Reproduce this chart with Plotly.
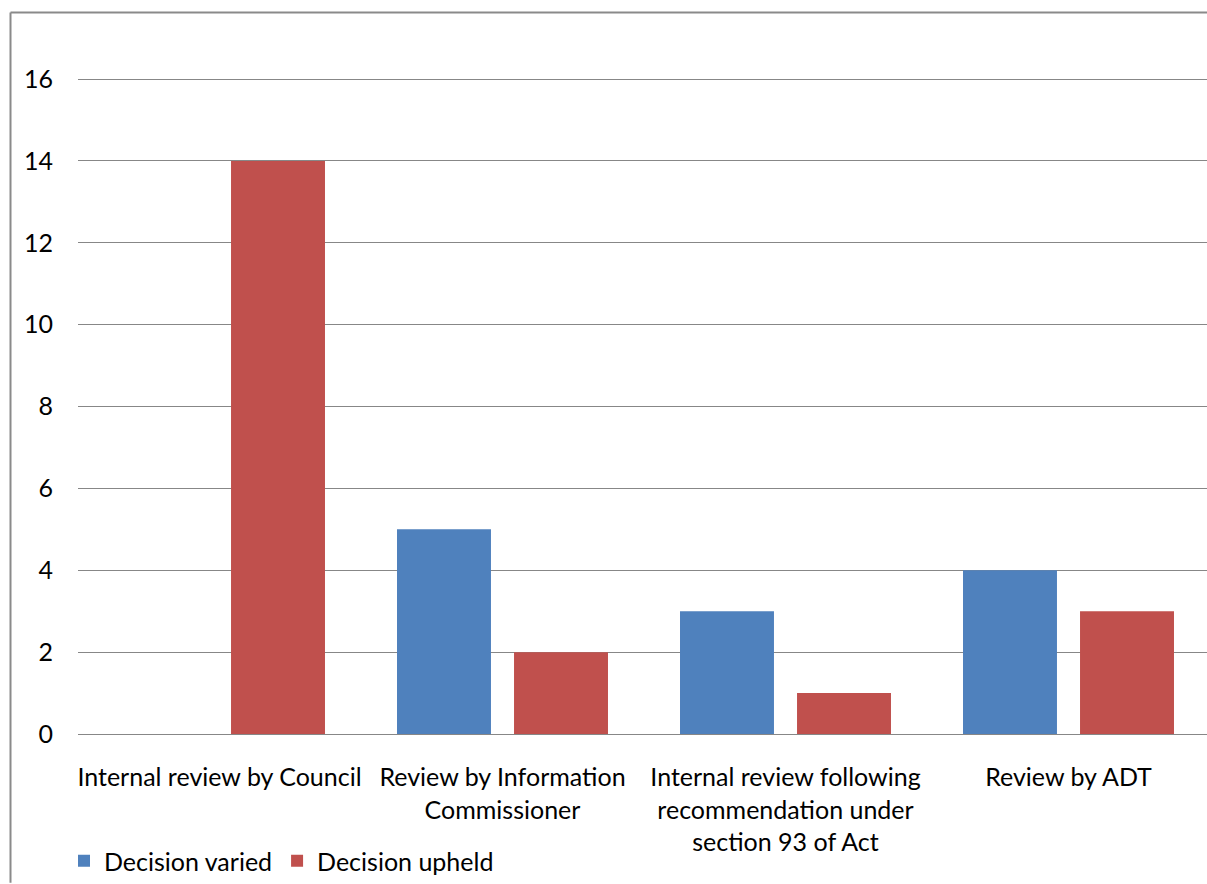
import plotly.graph_objects as go

# Review outcomes by review type
categories = [
    "Internal review by Council",
    "Review by Information<br>Commissioner",
    "Internal review following<br>recommendation under<br>section 93 of Act",
    "Review by ADT",
]
decision_varied = [0, 5, 3, 4]
decision_upheld = [14, 2, 1, 3]
y_ticks = [0, 2, 4, 6, 8, 10, 12, 14, 16]

W, H = 1207, 884
Y_MAX = 16.1
L, B = 78, 149
T = round(H - B - 41 * Y_MAX)
plot_w = W - L
plot_h = H - T - B

font = dict(family="Lato, 'Open Sans', sans-serif", size=25, color="#000000")

fig = go.Figure()
fig.add_trace(go.Bar(name="Decision varied", x=categories, y=decision_varied,
                     marker=dict(color="#4F81BD", line=dict(width=0))))
fig.add_trace(go.Bar(name="Decision upheld", x=categories, y=decision_upheld,
                     marker=dict(color="#C0504D", line=dict(width=0))))

def px_x(p):
    return (p - L) / plot_w

def px_y(p):
    return (H - B - p) / plot_h

# Outer chart frame (left and top edges; the rest lies outside the page)
frame = dict(color="#8a8a8a", width=2)
fig.add_shape(type="line", xref="paper", yref="paper",
              x0=px_x(10.5), x1=px_x(10.5), y0=px_y(H), y1=px_y(12.5), line=frame)
fig.add_shape(type="line", xref="paper", yref="paper",
              x0=px_x(10.5), x1=px_x(W), y0=px_y(12.5), y1=px_y(12.5), line=frame)

fig.update_layout(
    width=W, height=H,
    margin=dict(l=L, r=0, t=T, b=B),
    paper_bgcolor="white", plot_bgcolor="white",
    barmode="group", bargap=0.173, bargroupgap=0.197,
    font=font,
    showlegend=True,
    legend=dict(orientation="h", x=px_x(64), xanchor="left", y=px_y(862), yanchor="middle",
                font=font, traceorder="normal", bgcolor="rgba(0,0,0,0)"),
    xaxis=dict(type="category", range=[-0.5, -0.5 + plot_w / 283], showgrid=False,
               showline=False, ticks="", tickfont=font, ticklabelstandoff=26),
    yaxis=dict(range=[0, Y_MAX], tickvals=y_ticks, showgrid=True, gridcolor="#878787",
               gridwidth=1.3, zeroline=True, zerolinecolor="#878787", zerolinewidth=1.3,
               showline=False, ticks="", tickfont=font, ticklabelstandoff=24),
)

fig.write_html("out.html")
